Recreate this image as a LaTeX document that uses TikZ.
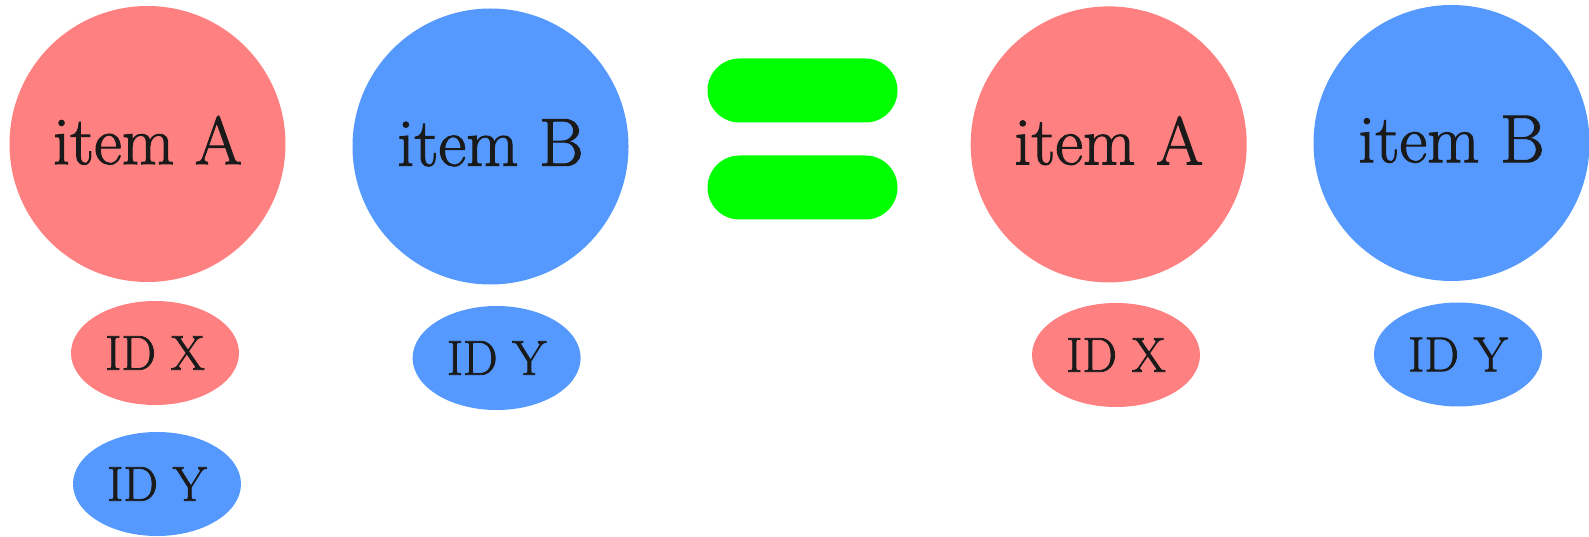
\documentclass[tikz,border=0pt]{standalone}
\usepackage{fontspec}
\setmainfont{lmroman17-regular}[Extension=.otf, RawFeature={embolden=1.5}]
\usetikzlibrary{shapes.geometric}
\definecolor{itemred}{HTML}{FF8080}
\definecolor{itemblue}{HTML}{5599FF}
\definecolor{eqgreen}{HTML}{00FF00}
\definecolor{inktext}{HTML}{1A1A1A}
\tikzset{
  bigitem/.style={circle, minimum size=276pt, inner sep=0pt, draw=none, text=inktext,
    text depth=8pt, font=\fontsize{68}{75}\selectfont},
  idtag/.style={ellipse, minimum width=168pt, minimum height=104pt, inner sep=0pt, draw=none,
    text=inktext, font=\fontsize{49}{55}\selectfont},
  eqbar/.style={rectangle, rounded corners=32pt, minimum width=190pt, minimum height=64pt,
    inner sep=0pt, fill=eqgreen, draw=none},
  reditem/.style={fill=itemred},
  blueitem/.style={fill=itemblue}
}
\begin{document}
\begin{tikzpicture}[x=1pt, y=-1pt]
\useasboundingbox (0,0) rectangle (1589,537);
% left-hand side
\node[bigitem, reditem] (itemAL) at (147.5,144) {item A};
\node[bigitem, blueitem] (itemBL) at (490.5,146.5) {item B};
\node[idtag, reditem] (idXL) at (155,353) {ID X};
\node[idtag, blueitem] (idYL1) at (157,484) {ID Y};
\node[idtag, blueitem] (idYL2) at (496.6,358) {ID Y};
% equals sign
\node[eqbar] (eqtop) at (802.5,90.5) {};
\node[eqbar] (eqbot) at (802.5,187.5) {};
% right-hand side
\node[bigitem, reditem] (itemAR) at (1108.7,144.4) {item A};
\node[bigitem, blueitem] (itemBR) at (1451.5,143) {item B};
\node[idtag, reditem] (idXR) at (1116,355) {ID X};
\node[idtag, blueitem] (idYR) at (1458,354.5) {ID Y};
\end{tikzpicture}
\end{document}
